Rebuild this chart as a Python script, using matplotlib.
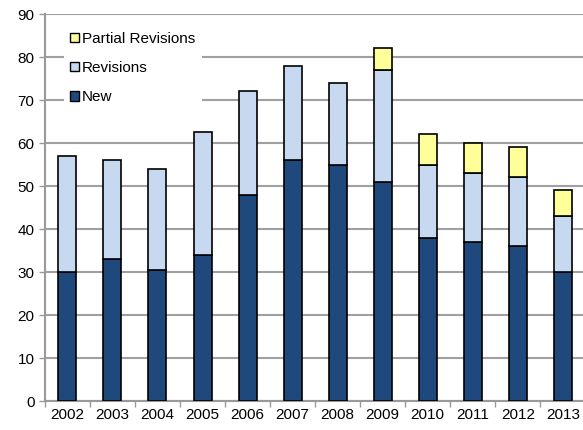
import numpy as np
import matplotlib.pyplot as plt
from matplotlib.ticker import FixedLocator

plt.rcParams['font.family'] = ['Liberation Sans', 'DejaVu Sans']

years = ['2002', '2003', '2004', '2005', '2006', '2007',
         '2008', '2009', '2010', '2011', '2012', '2013']
new = [30, 33, 30.5, 34, 48, 56, 55, 51, 38, 37, 36, 30]
revisions = [27, 23, 23.5, 28.5, 24, 22, 19, 26, 17, 16, 16, 13]
partial = [0, 0, 0, 0, 0, 0, 0, 5, 7, 7, 7, 6]

fig = plt.figure(figsize=(5.83, 4.30), dpi=100)
ax = fig.add_axes([0.077, 0.0674, 0.927, 0.9])

x = np.arange(len(years))
w = 0.4
new = np.array(new)
revisions = np.array(revisions)
partial = np.array(partial)

b1 = ax.bar(x, new, w, color='#1F497D', edgecolor='black', linewidth=1.2, label='New', zorder=3)
b2 = ax.bar(x, revisions, w, bottom=new, color='#C6D9F1', edgecolor='black', linewidth=1.2,
            label='Revisions', zorder=3)
mask = partial > 0
b3 = ax.bar(x[mask], partial[mask], w, bottom=(new + revisions)[mask], color='#FFFF99',
            edgecolor='black', linewidth=1.2, label='Partial Revisions', zorder=3)

ax.set_ylim(0, 90)
ax.set_xlim(-0.5, len(years) - 0.5)
ax.set_yticks(np.arange(0, 91, 10))
ax.set_xticks(x)
ax.set_xticklabels(years)
ax.xaxis.set_minor_locator(FixedLocator(np.arange(-0.5, len(years), 1)))
ax.tick_params(axis='x', which='major', length=0, labelsize=11, pad=5)
ax.tick_params(axis='x', which='minor', length=4, color='#999999', width=1)
ax.tick_params(axis='y', length=4, color='#999999', width=1, labelsize=11)

ax.grid(axis='y', color='#A0A0A0', linewidth=1.5, zorder=0)
ax.set_axisbelow(True)
for s in ['top', 'right']:
    ax.spines[s].set_visible(False)
for s in ['left', 'bottom']:
    ax.spines[s].set_color('#999999')
    ax.spines[s].set_linewidth(1.5)

leg = ax.legend([b3, b2, b1], ['Partial Revisions', 'Revisions', 'New'],
                loc='upper left', bbox_to_anchor=(0.035, 0.97), frameon=True,
                fontsize=11, handlelength=0.6, handleheight=0.6, handletextpad=0.2,
                labelspacing=1.0, borderaxespad=0, borderpad=0.4)
leg.get_frame().set_edgecolor('none')
leg.get_frame().set_facecolor('white')
leg.get_frame().set_alpha(1)
for h in leg.legend_handles:
    h.set_linewidth(1)

plt.savefig('out.png', dpi=100)
